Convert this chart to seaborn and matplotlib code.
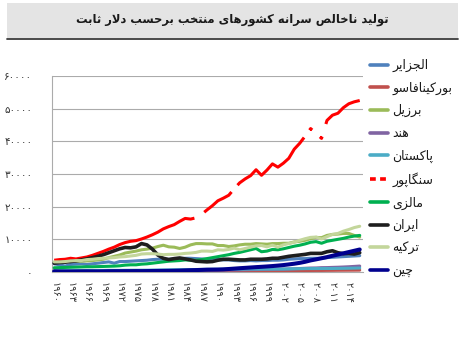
import matplotlib
matplotlib.use("Agg")
import matplotlib.pyplot as plt
from matplotlib.patches import Rectangle
from matplotlib.lines import Line2D
import numpy as np
import pandas as pd
import seaborn as sns

# ---------------------------------------------------------------- data
years = list(range(1960, 2017))

algeria = [2500, 2200, 1800, 2300, 2400, 2500, 2300, 2500, 2700, 2900,
           3100, 2700, 3200, 3200, 3300, 3400, 3500, 3600, 3800, 3900,
           3900, 3900, 4000, 4100, 4200, 4200, 4100, 4000, 3900, 3900,
           3800, 3700, 3700, 3500, 3400, 3400, 3500, 3400, 3500, 3500,
           3600, 3600, 3700, 3900, 4000, 4100, 4100, 4200, 4200, 4200,
           4400, 4500, 4600, 4700, 4800, 4900, 5000]
burkina = [270, 275, 285, 290, 295, 295, 300, 305, 305, 300,
           300, 305, 305, 295, 300, 310, 320, 320, 325, 325,
           330, 330, 340, 335, 330, 350, 360, 355, 360, 355,
           350, 350, 355, 350, 345, 350, 370, 380, 390, 400,
           400, 410, 420, 440, 440, 460, 470, 470, 480, 480,
           500, 510, 530, 540, 550, 560, 580]
brazil = [3000, 3200, 3300, 3300, 3300, 3300, 3400, 3500, 3700, 3900,
          4400, 4800, 5200, 5800, 6100, 6400, 6800, 7000, 7300, 7800,
          8200, 7700, 7600, 7200, 7600, 8300, 8700, 8700, 8600, 8600,
          8100, 8100, 7800, 8000, 8300, 8500, 8500, 8700, 8600, 8500,
          8700, 8700, 8800, 8800, 9200, 9400, 9700, 10200, 10600, 10500,
          11200, 11500, 11600, 11800, 11800, 11200, 10700]
india = [330, 335, 340, 350, 365, 345, 340, 360, 365, 380,
         390, 385, 375, 380, 375, 400, 400, 420, 440, 410,
         430, 440, 450, 470, 480, 490, 500, 510, 550, 570,
         590, 580, 600, 620, 650, 690, 730, 750, 790, 820,
         830, 860, 880, 940, 1000, 1070, 1140, 1220, 1240, 1330,
         1350, 1410, 1460, 1530, 1610, 1710, 1820]
pakistan = [350, 360, 370, 390, 410, 420, 430, 440, 460, 480,
            510, 500, 500, 520, 530, 540, 550, 560, 590, 600,
            620, 650, 680, 690, 710, 740, 760, 780, 810, 820,
            830, 850, 880, 870, 880, 900, 910, 890, 890, 900,
            900, 910, 910, 940, 980, 1010, 1040, 1060, 1060, 1070,
            1070, 1080, 1100, 1120, 1150, 1180, 1220]
singapore = [3600, 3800, 3900, 4200, 4000, 4300, 4600, 5100, 5700, 6300,
             7000, 7600, 8400, 9000, 9400, 9600, 10100, 10700, 11400, 12200,
             13200, 13900, 14500, 15500, 16400, 16200, 16600, 17600, 19000, 20300,
             21800, 22600, 23500, 25500, 27300, 28500, 29500, 31300, 29600, 31200,
             33100, 32100, 33300, 34800, 37600, 39400, 41600, 43900, 42500, 40900,
             46400, 48000, 48600, 50300, 51500, 52100, 52500]
malaysia = [1300, 1350, 1400, 1450, 1500, 1550, 1600, 1600, 1650, 1700,
            1750, 1800, 1900, 2100, 2200, 2200, 2400, 2500, 2700, 2900,
            3100, 3300, 3400, 3500, 3700, 3600, 3600, 3800, 4100, 4400,
            4700, 5000, 5300, 5700, 6000, 6400, 6800, 7200, 6200, 6400,
            6900, 6800, 7100, 7500, 7900, 8200, 8600, 9100, 9300, 8800,
            9400, 9700, 10000, 10300, 10700, 11000, 11200]
iran = [2700, 2900, 3000, 3200, 3400, 3700, 4000, 4400, 4800, 5300,
        5900, 6500, 7100, 7500, 7400, 7700, 8700, 8300, 7000, 5200,
        4200, 3800, 4100, 4300, 4000, 3700, 3300, 3200, 3100, 3200,
        3600, 3900, 3900, 3800, 3700, 3700, 3900, 3900, 3900, 4000,
        4200, 4200, 4500, 4800, 5000, 5200, 5400, 5700, 5700, 5700,
        6200, 6500, 5900, 5600, 5700, 5500, 5900]
turkey = [3100, 3100, 3200, 3400, 3500, 3500, 3800, 3900, 4100, 4200,
          4300, 4400, 4600, 4700, 4900, 5100, 5500, 5600, 5600, 5500,
          5300, 5400, 5400, 5500, 5700, 5800, 6000, 6400, 6400, 6300,
          6800, 6700, 6900, 7300, 6800, 7200, 7600, 8000, 8100, 7700,
          8200, 7600, 8300, 8700, 9100, 9700, 10200, 10600, 10700, 10100,
          10800, 11500, 11800, 12500, 13000, 13600, 14000]
china = [190, 140, 135, 145, 165, 190, 205, 190, 180, 205,
         240, 250, 250, 265, 265, 280, 270, 285, 310, 330,
         350, 365, 390, 430, 490, 550, 590, 650, 710, 730,
         750, 810, 920, 1040, 1160, 1270, 1380, 1490, 1590, 1700,
         1820, 1960, 2120, 2320, 2540, 2800, 3130, 3550, 3870, 4210,
         4560, 4970, 5340, 5720, 6110, 6500, 6890]

countries = ["الجزایر", "بورکینافاسو", "برزیل", "هند", "پاکستان",
             "سنگاپور", "مالزی", "ایران", "ترکیه", "چین"]
series = [algeria, burkina, brazil, india, pakistan,
          singapore, malaysia, iran, turkey, china]
colors = ["#4F81BD", "#C0504D", "#9BBB59", "#8064A2", "#4BACC6",
          "#FF0000", "#00B050", "#1E1E1E", "#C3D69B", "#00008E"]
widths = [2.2, 2.2, 2.2, 2.2, 2.2, 2.2, 2.2, 2.6, 2.2, 2.9]

# breaks in the long-dash stroke of the dashed series (in years)
dash_breaks = [(1985.7, 1987.5), (1992.5, 1993.6), (2005.8, 2006.8),
               (2007.3, 2008.7), (2009.1, 2009.8)]

y_ticks = [0, 10000, 20000, 30000, 40000, 50000, 60000]
x_ticks = list(range(1960, 2015, 3))
title = "تولید ناخالص سرانه کشورهای منتخب برحسب دلار ثابت"

# ---------------------------------------------------- arabic shaping
_FORMS = {  # isolated, final, initial, medial
    "ا": ("\uFE8D", "\uFE8E", None, None),
    "آ": ("\uFE81", "\uFE82", None, None),
    "د": ("\uFEA9", "\uFEAA", None, None),
    "ذ": ("\uFEAB", "\uFEAC", None, None),
    "ر": ("\uFEAD", "\uFEAE", None, None),
    "ز": ("\uFEAF", "\uFEB0", None, None),
    "ژ": ("\uFB8A", "\uFB8B", None, None),
    "و": ("\uFEED", "\uFEEE", None, None),
    "ب": ("\uFE8F", "\uFE90", "\uFE91", "\uFE92"),
    "ت": ("\uFE95", "\uFE96", "\uFE97", "\uFE98"),
    "ث": ("\uFE99", "\uFE9A", "\uFE9B", "\uFE9C"),
    "ج": ("\uFE9D", "\uFE9E", "\uFE9F", "\uFEA0"),
    "ح": ("\uFEA1", "\uFEA2", "\uFEA3", "\uFEA4"),
    "خ": ("\uFEA5", "\uFEA6", "\uFEA7", "\uFEA8"),
    "س": ("\uFEB1", "\uFEB2", "\uFEB3", "\uFEB4"),
    "ش": ("\uFEB5", "\uFEB6", "\uFEB7", "\uFEB8"),
    "ص": ("\uFEB9", "\uFEBA", "\uFEBB", "\uFEBC"),
    "ف": ("\uFED1", "\uFED2", "\uFED3", "\uFED4"),
    "ق": ("\uFED5", "\uFED6", "\uFED7", "\uFED8"),
    "ل": ("\uFEDD", "\uFEDE", "\uFEDF", "\uFEE0"),
    "م": ("\uFEE1", "\uFEE2", "\uFEE3", "\uFEE4"),
    "ن": ("\uFEE5", "\uFEE6", "\uFEE7", "\uFEE8"),
    "ه": ("\uFEE9", "\uFEEA", "\uFEEB", "\uFEEC"),
    "ی": ("\uFBFC", "\uFBFD", "\uFBFE", "\uFBFF"),
    "پ": ("\uFB56", "\uFB57", "\uFB58", "\uFB59"),
    "چ": ("\uFB7A", "\uFB7B", "\uFB7C", "\uFB7D"),
    "ک": ("\uFB8E", "\uFB8F", "\uFB90", "\uFB91"),
    "گ": ("\uFB92", "\uFB93", "\uFB94", "\uFB95"),
}


def _dual(ch):
    return ch in _FORMS and _FORMS[ch][2] is not None


def rtl(text):
    """Join Persian letters into contextual forms and lay them out right-to-left."""
    chars = list(text)
    out = []
    i = 0
    while i < len(chars):
        c = chars[i]
        prev = chars[i - 1] if i > 0 else ""
        joins_prev = c in _FORMS and _dual(prev)
        if c == "ل" and i + 1 < len(chars) and chars[i + 1] == "ا":
            out.append("\uFEFC" if joins_prev else "\uFEFB")
            i += 2
            continue
        if c not in _FORMS:
            out.append(c)
            i += 1
            continue
        nxt = chars[i + 1] if i + 1 < len(chars) else ""
        joins_next = _dual(c) and nxt in _FORMS
        iso, fin, ini, med = _FORMS[c]
        if joins_prev and joins_next:
            out.append(med)
        elif joins_prev:
            out.append(fin)
        elif joins_next:
            out.append(ini)
        else:
            out.append(iso)
        i += 1
    return "".join(reversed(out))


_FA_DIGITS = str.maketrans("0123456789", "۰۱۲۳۴۵۶۷۸۹")


def fa_num(v):
    return str(int(v)).translate(_FA_DIGITS)


def break_dashes(line, ax, breaks):
    """Dash pattern for `line` that leaves gaps at the given x-intervals."""
    xy = np.column_stack(line.get_data()).astype(float)
    pix = ax.transData.transform(xy)
    seg = np.hypot(*np.diff(pix, axis=0).T)
    cum = np.concatenate([[0], np.cumsum(seg)]) * 72.0 / ax.figure.dpi
    at = lambda x: float(np.interp(x, xy[:, 0], cum))
    pattern, pos = [], 0.0
    for a, b in breaks:
        pattern += [at(a) - pos, at(b) - at(a)]
        pos = at(b)
    pattern += [cum[-1] - pos + 20, 1]
    lw = line.get_linewidth()
    line.set_dashes([p / lw for p in pattern])


# ---------------------------------------------------------------- plot
sns.set_theme(style="white")
plt.rcParams["font.family"] = ["DejaVu Sans"]

fig = plt.figure(figsize=(4.62, 3.39), dpi=100)
fig.patch.set_facecolor("white")

# title band
fig.patches.append(Rectangle((7 / 462, 1 - 38 / 339), 451 / 462, 35 / 339,
                             transform=fig.transFigure, facecolor="#E4E4E4",
                             edgecolor="none", zorder=0))
fig.lines.append(Line2D([7 / 462, 458 / 462], [1 - 38.5 / 339] * 2,
                        transform=fig.transFigure, color="#3C3C3C", lw=1.3))
fig.text(232 / 462, 1 - 20 / 339, rtl(title), ha="center", va="center",
         fontsize=8.3, fontweight="bold", color="#1A1A1A")

ax = fig.add_axes([52 / 462, 1 - 272 / 339, 311 / 462, 196 / 339])
ax.set_xlim(1959.6, 2016.6)
ax.set_ylim(0, 60000)

frames = []
for name, vals in zip(countries, series):
    frames.append(pd.DataFrame({"year": years, "gdp": vals, "country": name}))
df = pd.concat(frames, ignore_index=True)

dashed_line = None
for k, name in enumerate(countries):
    sub = df[df["country"] == name]
    sns.lineplot(data=sub, x="year", y="gdp", ax=ax, color=colors[k],
                 lw=widths[k], label=rtl(name), zorder=3 + k,
                 solid_capstyle="round")
    if name == "سنگاپور":
        dashed_line = ax.lines[-1]

ax.set_xlim(1959.6, 2016.6)
ax.set_ylim(0, 60000)
ax.set_yticks(y_ticks)
ax.set_yticklabels([fa_num(v) for v in y_ticks], fontsize=7.5, color="#333333")
ax.set_xticks(x_ticks)
ax.set_xticklabels([fa_num(v) for v in x_ticks], rotation=-90, fontsize=7,
                   color="#333333")
ax.tick_params(axis="y", length=0, pad=14)
ax.tick_params(axis="x", length=0, pad=7)
ax.set_xlabel("")
ax.set_ylabel("")
ax.grid(axis="y", color="#ABABAB", lw=0.8)
ax.set_axisbelow(True)
for side in ["top", "right"]:
    ax.spines[side].set_visible(False)
for side in ["left", "bottom"]:
    ax.spines[side].set_color("#ABABAB")
    ax.spines[side].set_linewidth(0.8)

leg = ax.legend(loc="upper left", bbox_to_anchor=(370 / 462, 1 - 59 / 339),
                bbox_transform=fig.transFigure, frameon=False, fontsize=9,
                handlelength=1.45, handletextpad=0.35, labelspacing=0.76,
                borderaxespad=0, borderpad=0)
for line in leg.get_lines():
    line.set_linewidth(2.6)
leg.get_lines()[5].set_dashes([1.6, 1.2])
for t in leg.get_texts():
    t.set_color("#1A1A1A")

break_dashes(dashed_line, ax, dash_breaks)

fig.savefig("out.png", dpi=100)
